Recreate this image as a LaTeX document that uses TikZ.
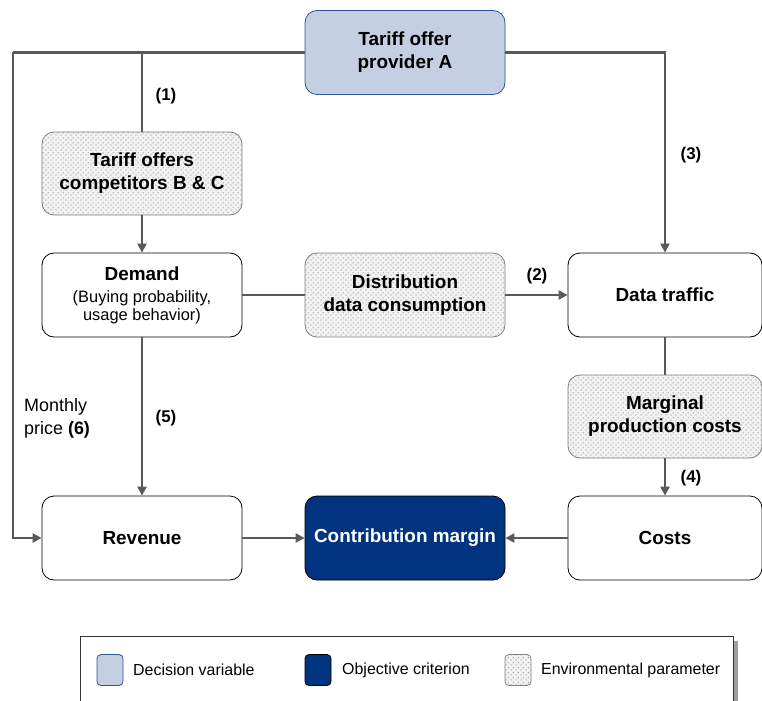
\documentclass[tikz,border=0pt]{standalone}
\usepackage{fontspec}
\setmainfont{Liberation Sans}
\usetikzlibrary{arrows.meta,patterns.meta}
\definecolor{linegray}{HTML}{595959}
\definecolor{decfill}{HTML}{C5CFE2}
\definecolor{decborder}{HTML}{2F5597}
\definecolor{objfill}{HTML}{003380}
\definecolor{envbg}{HTML}{F2F2F2}
\definecolor{envdot}{HTML}{8C8C8C}
\definecolor{envborder}{HTML}{808080}
\pgfdeclarepattern{name=mydots, type=uncolored,
  bottom left={\pgfpoint{0bp}{0bp}}, top right={\pgfpoint{5bp}{5bp}},
  tile size={\pgfpoint{5bp}{5bp}},
  code={\pgfpathcircle{\pgfpoint{1.25bp}{1.25bp}}{0.75bp}\pgfpathcircle{\pgfpoint{3.75bp}{3.75bp}}{0.75bp}\pgfusepath{fill}}}
\tikzset{
  box/.style={draw=black, line width=0.8bp, rounded corners=12bp, minimum width=200bp, minimum height=84bp, align=center, inner sep=0pt,
    font=\bfseries\fontsize{19}{23}\selectfont},
  narrow/.style={minimum width=194bp},
  decbox/.style={box, draw=decborder, fill=decfill},
  objbox/.style={box, draw=black, fill=objfill, text=white},
  envbox/.style={box, draw=envborder, preaction={fill=envbg}, pattern={mydots}, pattern color=envdot},
  conn/.style={draw=linegray, line width=2.4bp},
  arr/.style={conn, -{Triangle[length=9bp,width=9bp]}},
  lbl/.style={font=\bfseries\fontsize{17}{20}\selectfont, inner sep=0pt},
  legtext/.style={font=\fontsize{16}{19}\selectfont, anchor=west, inner sep=0pt},
  swatch/.style={minimum width=26bp, minimum height=31bp, rounded corners=4bp, inner sep=0pt, line width=0.8bp}
}
\newcommand{\subtxt}[1]{{\normalfont\fontsize{16.5}{18}\selectfont #1}}
\begin{document}
\begin{tikzpicture}[x=1bp,y=-1bp]
\useasboundingbox (0,0) rectangle (762,701);
\begin{scope}
\clip (0,0) rectangle (762,701);
% nodes
\node[decbox] (pa) at (405,52.5) {Tariff offer\\provider A};
\node[envbox, minimum height=83bp] (comp) at (142,173.5) {Tariff offers\\competitors B \& C};
\node[box] (dem) at (142,295) {Demand\\[-1bp]\subtxt{(Buying probability,}\\[-5bp]\subtxt{usage behavior)}};
\node[envbox] (dist) at (405,295) {Distribution\\data consumption};
\node[box, narrow] (traf) at (665,295) {Data traffic};
\node[envbox, narrow, minimum height=83bp] (marg) at (665,416.5) {Marginal\\production costs};
\node[box] (rev) at (142,538) {Revenue};
\node[objbox] (cm) at (405,538) {Contribution margin};
\node[box, narrow] (cost) at (665,538) {Costs};
% coordinates
\coordinate (tl) at (13,52.5);
\coordinate (tm) at (142,52.5);
\coordinate (tr) at (665,52.5);
\coordinate (bl) at (13,538);
% connectors
\draw[conn] (pa.west) -- (tl);
\draw[arr] (pa.east) -- (tr) -- (traf.north);
\draw[conn] (tm) -- (comp.north);
\draw[arr] (tl) -- (bl) -- (rev.west);
\draw[arr] (comp.south) -- (dem.north);
\draw[conn] (dem.east) -- (dist.west);
\draw[arr] (dist.east) -- (traf.west);
\draw[conn] (traf.south) -- (marg.north);
\draw[arr] (marg.south) -- (cost.north);
\draw[arr] (dem.south) -- (rev.north);
\draw[arr] (rev.east) -- (cm.west);
\draw[arr] (cost.west) -- (cm.east);
% labels
\node[lbl] (l1) at (166,96) {(1)};
\node[lbl] (l3) at (691,155) {(3)};
\node[lbl] (l2) at (537,276) {(2)};
\node[lbl] (l4) at (691,478) {(4)};
\node[lbl] (l5) at (166,418) {(5)};
\node[anchor=west, align=left, inner sep=0pt, font=\fontsize{18}{23}\selectfont] (l6) at (24,418) {Monthly\\price \textbf{(6)}};
% legend
\fill[gray!75] (733,641) rectangle (738,720);
\draw[line width=0.8bp, draw=black!80, fill=white] (80,636) rectangle (733,720);
\node[swatch, draw=decborder, fill=decfill] (s1) at (110,670) {};
\node[legtext] (t1) at (133,670) {Decision variable};
\node[swatch, draw=black, fill=objfill] (s2) at (318,670) {};
\node[legtext] (t2) at (342,670) {Objective criterion};
\node[swatch, draw=envborder, preaction={fill=envbg}, pattern={mydots}, pattern color=envdot] (s3) at (518,670) {};
\node[legtext] (t3) at (541,670) {Environmental parameter};
\end{scope}
\end{tikzpicture}
\end{document}
